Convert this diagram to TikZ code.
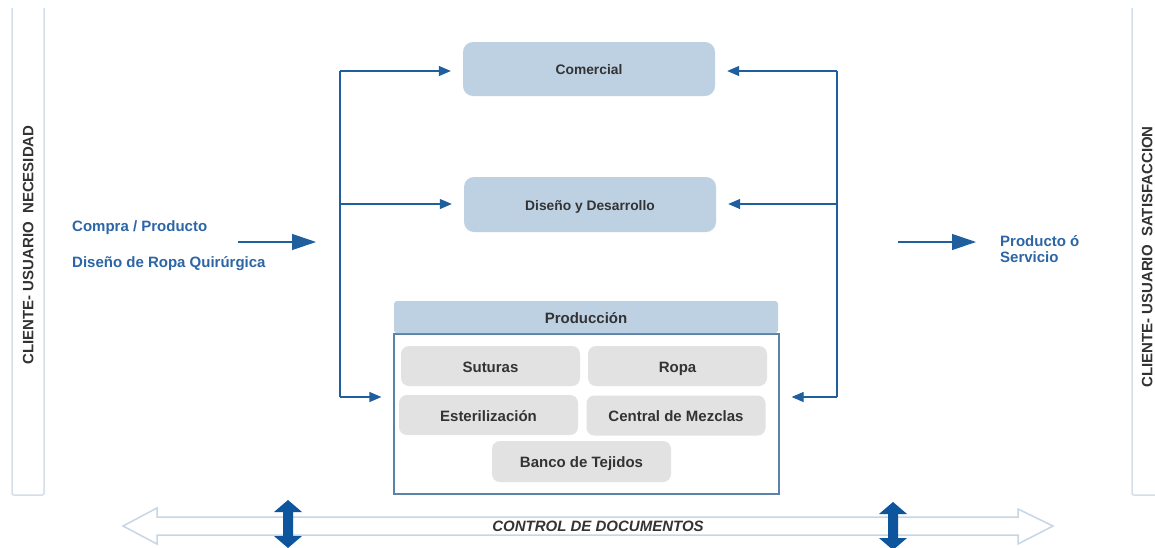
\documentclass[tikz,border=0pt]{standalone}
\usepackage{fontspec}
\setmainfont{Liberation Sans}
\usetikzlibrary{arrows.meta}
\definecolor{boxblue}{HTML}{BDD1E3}
\definecolor{boxgray}{HTML}{E2E2E2}
\definecolor{txtgray}{HTML}{333333}
\definecolor{lineblue}{HTML}{1F5F9E}
\definecolor{lblblue}{HTML}{2C66A6}
\definecolor{darkblue}{HTML}{0D569D}
\definecolor{bandline}{HTML}{D3DEE9}
\definecolor{hollow}{HTML}{C6D6E6}
\definecolor{bodyline}{HTML}{5C82A8}
\tikzset{
  capmid/.style={text height=12.7pt, text depth=0pt},
  capmidsmall/.style={text height=11.9pt, text depth=0pt},
  dept/.style={rectangle, rounded corners=10pt, fill=boxblue, minimum width=252pt,
    minimum height=54pt, text=txtgray, capmidsmall, font=\bfseries\fontsize{13.8}{16}\selectfont},
  sub/.style={rectangle, rounded corners=8pt, fill=boxgray, minimum width=179pt,
    minimum height=40pt, text=txtgray, capmid, font=\bfseries\fontsize{15}{18}\selectfont},
  lbl/.style={text=lblblue, font=\bfseries\fontsize{15}{16}\selectfont, inner sep=0pt},
  side/.style={text=txtgray, font=\bfseries\fontsize{15}{18}\selectfont, rotate=90,
    text height=10.7pt, text depth=0pt},
  conn/.style={draw=lineblue, line width=1.2pt},
  arr/.style={conn, -{Triangle[length=12pt,width=10pt]}, shorten >=12pt},
  bigarr/.style={conn, -{Triangle[length=24pt,width=16pt]}},
  updown/.pic={\fill[darkblue] (0,-24) -- (14,-12) -- (5,-12) -- (5,12) -- (14,12)
    -- (0,24) -- (-14,12) -- (-5,12) -- (-5,-12) -- (-14,-12) -- cycle;}
}
\begin{document}
\begin{tikzpicture}[x=1pt,y=-1pt]
\useasboundingbox (0,0) rectangle (1155,547);
\fill[white] (0,0) rectangle (1155,547);

% customer bands
\draw[bandline, line width=1.5pt, rounded corners=2pt] (12,8) -- (12,495) -- (44,495) -- (44,8);
\draw[bandline, line width=1.5pt, rounded corners=2pt] (1160,495) -- (1132,495) -- (1132,8);
\node[side] (need) at (28,245) {CLIENTE- USUARIO\ \ NECESIDAD};
\node[side] (satis) at (1147,257) {CLIENTE- USUARIO\ \ SATISFACCION};

% departments
\node[dept] (com) at (589,69) {Comercial};
\node[dept, minimum height=55pt] (dis) at (590,204.5) {Diseño y Desarrollo};

% production
\node[rectangle, draw=bodyline, line width=1.2pt, fill=white, minimum width=385pt,
  minimum height=160pt] (body) at (586.5,414) {};
\node[rectangle, rounded corners=3pt, fill=boxblue, minimum width=384pt, minimum height=32pt,
  text=txtgray, capmid, font=\bfseries\fontsize{15}{18}\selectfont] (prod) at (586,317) {Producción};
\node[sub] (sut) at (490.5,366) {Suturas};
\node[sub] (ropa) at (677.5,366) {Ropa};
\node[sub] (est) at (488.5,415) {Esterilización};
\node[sub] (mez) at (676,415.5) {Central de Mezclas};
\node[sub, minimum height=41pt] (ban) at (581.5,461.5) {Banco de Tejidos};

% distribution lines
\coordinate (lt) at (340,71);
\coordinate (lm) at (340,204);
\coordinate (lb) at (340,397);
\coordinate (rt) at (837,71);
\coordinate (rm) at (837,204);
\coordinate (rb) at (837,397);
\draw[conn] (lt) -- (lb);
\draw[conn] (rt) -- (rb);
\draw[arr] (lt) -- (com.west |- lt);
\draw[arr] (lm) -- (dis.west |- lm);
\draw[arr] (lb) -- (body.west |- lb);
\draw[arr] (rt) -- (com.east |- rt);
\draw[arr] (rm) -- (dis.east |- rm);
\draw[arr] (rb) -- (body.east |- rb);

% input and output
\node[lbl, anchor=west] (compra) at (72,228) {Compra / Producto};
\node[lbl, anchor=west] (ropaq) at (72,264) {Diseño de Ropa Quirúrgica};
\coordinate (inA) at (238,242);
\coordinate (inB) at (316,242);
\draw[bigarr] (inA) -- (inB);
\coordinate (outA) at (898,242);
\coordinate (outB) at (976,242);
\draw[bigarr] (outA) -- (outB);
\node[lbl, anchor=west, align=left] (out) at (1000,249) {Producto ó\\Servicio};

% document control
\draw[hollow, fill=white, line width=1.5pt, line join=miter]
  (123,526) -- (157,508) -- (157,517) -- (1018,517) -- (1018,509) -- (1053,526)
  -- (1018,544) -- (1018,535) -- (157,535) -- (157,544) -- cycle;
\node[text=txtgray, text height=10.7pt, text depth=0pt, font=\bfseries\itshape\fontsize{15}{18}\selectfont] (ctrl) at (598,526) {CONTROL DE DOCUMENTOS};
\pic at (288,524) {updown};
\pic at (893,526) {updown};
\end{tikzpicture}
\end{document}
